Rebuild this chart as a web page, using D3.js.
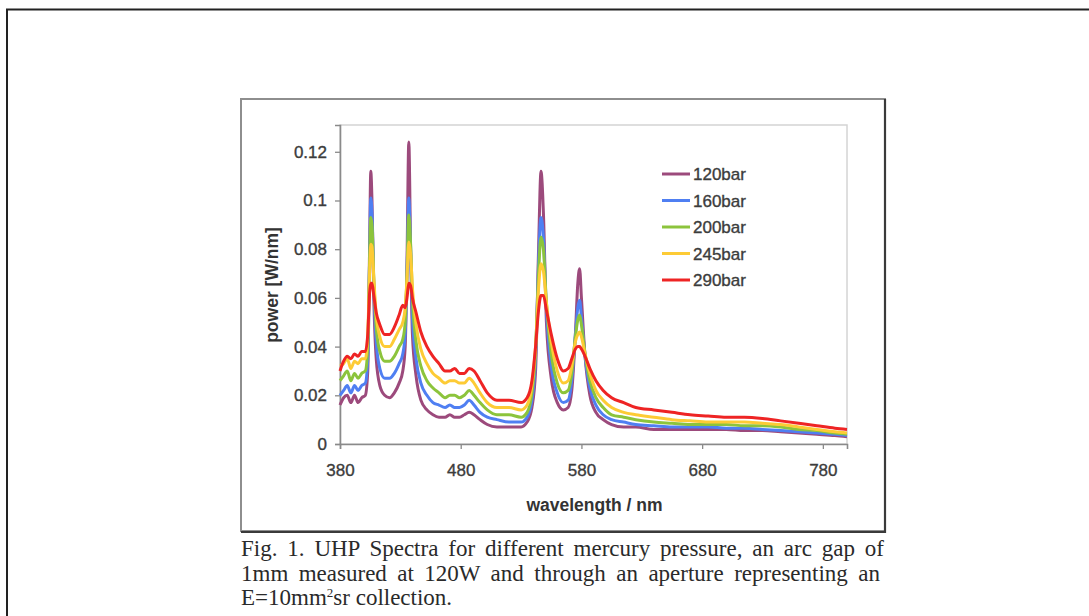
<!DOCTYPE html>
<html>
<head>
<meta charset="utf-8">
<script src="https://cdn.jsdelivr.net/npm/d3@7"></script>
<style>
  body { margin: 0; background: #fff; }
  svg text { font-family: "Liberation Sans", Arial, sans-serif; }
  svg .caption text { font-family: "Liberation Serif", "Times New Roman", serif; }
</style>
</head>
<body>
<svg width="1089" height="616"></svg>
<script>
// wavelength grid (nm), shared by every series
const wavelengths = [380, 383, 386, 389, 392, 395, 398, 401, 403, 404.5, 405.5, 406.5, 408, 410, 413, 417, 421, 425, 429, 432, 434, 435.5, 437, 438.5, 440, 443, 447, 452, 457, 462, 467, 471, 475, 479, 483, 487, 491, 496, 502, 510, 520, 530, 535, 539, 542, 544.5, 546.5, 548.5, 551, 555, 560, 565, 569, 572, 575, 577, 578.5, 580, 583, 587, 592, 598, 605, 615, 625, 640, 655, 670, 685, 700, 715, 730, 745, 760, 775, 790, 800];

const p120 = [0.016, 0.019, 0.020, 0.017, 0.020, 0.017, 0.019, 0.020, 0.030, 0.080, 0.112, 0.100, 0.060, 0.035, 0.024, 0.020, 0.019, 0.021, 0.025, 0.030, 0.040, 0.075, 0.124, 0.080, 0.045, 0.028, 0.018, 0.014, 0.012, 0.011, 0.011, 0.012, 0.011, 0.011, 0.012, 0.013, 0.012, 0.010, 0.008, 0.007, 0.007, 0.007, 0.009, 0.015, 0.030, 0.080, 0.112, 0.095, 0.050, 0.027, 0.017, 0.014, 0.015, 0.022, 0.045, 0.066, 0.072, 0.060, 0.036, 0.020, 0.013, 0.010, 0.008, 0.007, 0.007, 0.006, 0.006, 0.006, 0.006, 0.006, 0.0055, 0.0055, 0.005, 0.0045, 0.004, 0.0035, 0.003];
const p160 = [0.020, 0.022, 0.024, 0.021, 0.024, 0.022, 0.024, 0.025, 0.035, 0.075, 0.101, 0.095, 0.065, 0.042, 0.031, 0.027, 0.027, 0.029, 0.033, 0.037, 0.045, 0.070, 0.101, 0.080, 0.052, 0.035, 0.025, 0.020, 0.017, 0.016, 0.015, 0.016, 0.015, 0.015, 0.016, 0.018, 0.016, 0.013, 0.011, 0.010, 0.009, 0.009, 0.011, 0.018, 0.035, 0.075, 0.093, 0.085, 0.055, 0.032, 0.021, 0.017, 0.018, 0.026, 0.045, 0.056, 0.059, 0.052, 0.036, 0.023, 0.016, 0.012, 0.010, 0.009, 0.008, 0.0075, 0.007, 0.007, 0.007, 0.0065, 0.0065, 0.006, 0.0055, 0.005, 0.0045, 0.004, 0.0035];
const p200 = [0.026, 0.028, 0.030, 0.026, 0.029, 0.027, 0.029, 0.030, 0.040, 0.075, 0.093, 0.090, 0.068, 0.048, 0.038, 0.034, 0.034, 0.036, 0.040, 0.043, 0.050, 0.070, 0.094, 0.082, 0.060, 0.042, 0.032, 0.026, 0.023, 0.021, 0.019, 0.020, 0.020, 0.019, 0.020, 0.022, 0.020, 0.017, 0.014, 0.012, 0.012, 0.011, 0.013, 0.021, 0.038, 0.070, 0.085, 0.080, 0.058, 0.037, 0.025, 0.021, 0.022, 0.029, 0.044, 0.051, 0.053, 0.049, 0.037, 0.026, 0.019, 0.015, 0.012, 0.011, 0.010, 0.009, 0.0085, 0.008, 0.008, 0.008, 0.0075, 0.0075, 0.007, 0.006, 0.0055, 0.0045, 0.004];
const p245 = [0.032, 0.033, 0.035, 0.031, 0.034, 0.033, 0.035, 0.035, 0.045, 0.070, 0.082, 0.081, 0.068, 0.053, 0.044, 0.040, 0.040, 0.043, 0.047, 0.050, 0.056, 0.068, 0.083, 0.078, 0.064, 0.049, 0.039, 0.033, 0.029, 0.027, 0.025, 0.026, 0.026, 0.025, 0.025, 0.027, 0.025, 0.021, 0.017, 0.015, 0.015, 0.014, 0.016, 0.024, 0.040, 0.064, 0.074, 0.071, 0.058, 0.042, 0.030, 0.025, 0.026, 0.032, 0.042, 0.045, 0.046, 0.044, 0.037, 0.029, 0.022, 0.018, 0.015, 0.013, 0.012, 0.011, 0.010, 0.0095, 0.009, 0.009, 0.009, 0.0085, 0.008, 0.007, 0.006, 0.005, 0.0045];
const p290 = [0.030, 0.034, 0.036, 0.035, 0.037, 0.036, 0.038, 0.038, 0.045, 0.062, 0.066, 0.066, 0.061, 0.054, 0.049, 0.045, 0.045, 0.048, 0.053, 0.057, 0.056, 0.060, 0.066, 0.065, 0.060, 0.054, 0.046, 0.040, 0.036, 0.033, 0.030, 0.030, 0.031, 0.029, 0.029, 0.031, 0.030, 0.026, 0.021, 0.018, 0.018, 0.017, 0.019, 0.026, 0.040, 0.055, 0.061, 0.061, 0.055, 0.045, 0.035, 0.030, 0.031, 0.035, 0.039, 0.040, 0.040, 0.039, 0.036, 0.031, 0.026, 0.022, 0.019, 0.017, 0.015, 0.014, 0.013, 0.012, 0.0115, 0.011, 0.011, 0.0105, 0.0095, 0.0085, 0.0075, 0.0065, 0.006];

const seriesNames = ["120bar", "160bar", "200bar", "245bar", "290bar"];
const seriesValues = [p120, p160, p200, p245, p290];
const seriesColors = ["#9c4a7c", "#4f7ff2", "#8cc43c", "#fdcb35", "#ee2424"];

const xTicks = [380, 480, 580, 680, 780];
const yTicks = [0, 0.02, 0.04, 0.06, 0.08, 0.1, 0.12];

// the first two caption lines are justified in the source, hence a fixed width
const captionLines = [
  { text: "Fig. 1. UHP Spectra for different mercury pressure, an arc gap of", width: 643 },
  { text: "1mm measured at 120W and through an aperture representing an", width: 639 }
];

const svg = d3.select("svg");

// page frame (runs off the right and bottom edge)
svg.append("rect")
  .attr("x", 7).attr("y", 9.5)
  .attr("width", 1100).attr("height", 620)
  .attr("fill", "none").attr("stroke", "#222").attr("stroke-width", 2);

// figure frame
svg.append("rect")
  .attr("x", 241).attr("y", 99)
  .attr("width", 644).attr("height", 432)
  .attr("fill", "#fff").attr("stroke", "#8e8e8e").attr("stroke-width", 2);
svg.append("path")
  .attr("d", "M885,99V532H241")
  .attr("fill", "none").attr("stroke", "#3a3a3a").attr("stroke-width", 2.2);

const plot = { left: 340, top: 125, right: 847, bottom: 444 };

const x = d3.scaleLinear().domain([380, 800]).range([plot.left, plot.right]);
const y = d3.scaleLinear().domain([0, 0.131]).range([plot.bottom, plot.top]);

// plot area border
svg.append("rect")
  .attr("x", plot.left).attr("y", plot.top)
  .attr("width", plot.right - plot.left).attr("height", plot.bottom - plot.top)
  .attr("fill", "none").attr("stroke", "#d4d4d4").attr("stroke-width", 1.5);

// y axis
const yAxis = svg.append("g")
  .attr("transform", `translate(${plot.left},0)`)
  .call(d3.axisLeft(y).tickValues(yTicks).tickSize(5).tickPadding(8)
    .tickFormat(d => d === 0 ? "0" : d3.format("")(+d.toFixed(2))));

// x axis
const xAxis = svg.append("g")
  .attr("transform", `translate(0,${plot.bottom})`)
  .call(d3.axisBottom(x).tickValues(xTicks).tickSize(5).tickPadding(15));

[xAxis, yAxis].forEach(a => {
  a.select(".domain").attr("stroke", "#8a8a8a").attr("stroke-width", 1.6);
  a.selectAll(".tick line").attr("stroke", "#8a8a8a").attr("stroke-width", 1.3);
  a.selectAll(".tick text")
    .attr("fill", "#3c3c3c")
    .attr("stroke", "#3c3c3c").attr("stroke-width", 0.35)
    .style("font-size", "17px");
});

// spectra
const line = d3.line()
  .x((d, i) => x(wavelengths[i]))
  .y(d => y(d))
  .curve(d3.curveMonotoneX);

svg.append("g").selectAll("path")
  .data(seriesValues)
  .join("path")
  .attr("d", line)
  .attr("fill", "none")
  .attr("stroke", (d, i) => seriesColors[i])
  .attr("stroke-width", 3)
  .attr("stroke-linejoin", "round");

// legend
const legend = svg.append("g").attr("transform", "translate(662,174)");
seriesNames.forEach((name, i) => {
  const row = legend.append("g").attr("transform", `translate(0,${i * 26.5})`);
  row.append("line")
    .attr("x1", 0).attr("x2", 28)
    .attr("stroke", seriesColors[i]).attr("stroke-width", 3);
  row.append("text")
    .attr("x", 31).attr("dy", "0.36em")
    .attr("fill", "#3c3c3c")
    .attr("stroke", "#3c3c3c").attr("stroke-width", 0.35)
    .style("font-size", "17px")
    .text(name);
});

// axis titles
svg.append("text")
  .attr("x", (plot.left + plot.right) / 2 + 1).attr("y", 511)
  .attr("text-anchor", "middle")
  .attr("fill", "#333").style("font-size", "17.5px").style("font-weight", "bold")
  .text("wavelength / nm");

svg.append("text")
  .attr("transform", "translate(278,285) rotate(-90)")
  .attr("text-anchor", "middle")
  .attr("fill", "#333").style("font-size", "17.5px").style("font-weight", "bold")
  .text("power [W/nm]");

// caption below the figure
const cap = svg.append("g").attr("class", "caption")
  .style("font-size", "23px").attr("fill", "#2a2a2a");
captionLines.forEach((l, i) => {
  const t = cap.append("text")
    .attr("x", 241).attr("y", 556 + i * 24.5)
    .text(l.text);
  // justify by widening the gaps between words
  const gaps = l.text.split(" ").length - 1;
  const extra = (l.width - t.node().getComputedTextLength()) / gaps;
  t.style("word-spacing", extra + "px");
});
const last = cap.append("text").attr("x", 241).attr("y", 605);
last.append("tspan").text("E=10mm");
last.append("tspan").attr("dy", -8).style("font-size", "13px").text("2");
last.append("tspan").attr("dy", 8).text("sr collection.");
</script>
</body>
</html>
